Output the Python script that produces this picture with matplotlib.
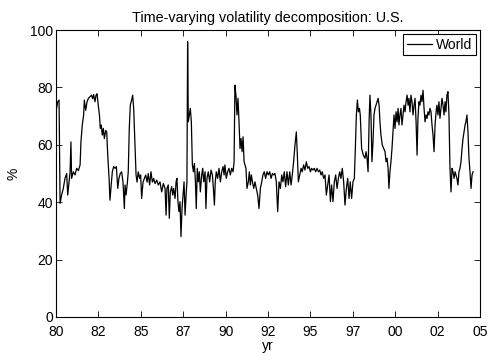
import matplotlib
matplotlib.use("Agg")
import matplotlib.pyplot as plt
import numpy as np

plt.rcParams["font.family"] = ["Liberation Sans", "DejaVu Sans"]

# years since 1980
t = [
    0.00, 0.10, 0.18, 0.24, 0.33, 0.43, 0.53, 0.63, 0.69, 0.77, 0.83, 0.88, 0.92, 1.02, 1.12, 1.22,
    1.32, 1.42, 1.47, 1.55, 1.63, 1.67, 1.75, 1.83, 1.91, 2.00, 2.10, 2.16, 2.22, 2.30, 2.36, 2.42,
    2.50, 2.56, 2.61, 2.67, 2.73, 2.79, 2.85, 2.93, 2.99, 3.05, 3.13, 3.18, 3.24, 3.32, 3.40, 3.48,
    3.56, 3.64, 3.71, 3.79, 3.87, 3.95, 4.03, 4.07, 4.13, 4.21, 4.26, 4.32, 4.38, 4.46, 4.52, 4.58,
    4.66, 4.72, 4.78, 4.85, 4.93, 4.99, 5.05, 5.13, 5.21, 5.29, 5.37, 5.44, 5.52, 5.60, 5.68, 5.76,
    5.84, 5.94, 6.03, 6.13, 6.23, 6.33, 6.43, 6.49, 6.54, 6.62, 6.68, 6.74, 6.82, 6.88, 6.94, 7.02,
    7.08, 7.13, 7.19, 7.25, 7.31, 7.37, 7.43, 7.49, 7.55, 7.61, 7.67, 7.72, 7.76, 7.80, 7.86, 7.92,
    7.98, 8.04, 8.10, 8.16, 8.22, 8.27, 8.33, 8.39, 8.45, 8.51, 8.59, 8.65, 8.71, 8.79, 8.84, 8.90,
    8.98, 9.06, 9.14, 9.22, 9.28, 9.34, 9.39, 9.45, 9.53, 9.61, 9.69, 9.77, 9.85, 9.91, 9.96, 10.04,
    10.12, 10.20, 10.28, 10.36, 10.44, 10.50, 10.55, 10.61, 10.67, 10.73, 10.79, 10.85, 10.91, 10.97,
    11.03, 11.09, 11.14, 11.20, 11.26, 11.34, 11.40, 11.46, 11.52, 11.58, 11.66,
    11.73, 11.81, 11.89, 11.97, 12.05, 12.13, 12.20, 12.28, 12.36, 12.44, 12.52, 12.60, 12.68, 12.76,
    12.83, 12.91, 12.99, 13.07, 13.15, 13.23, 13.31, 13.38, 13.46, 13.54, 13.62, 13.70, 13.78, 13.86,
    13.93, 14.01, 14.09, 14.17, 14.23, 14.29, 14.37, 14.45, 14.52, 14.60, 14.68, 14.76, 14.84, 14.92,
    15.00, 15.07, 15.15, 15.23, 15.31, 15.39, 15.47, 15.55, 15.63, 15.70, 15.78, 15.86, 15.94, 16.02,
    16.10, 16.18, 16.25, 16.33, 16.41, 16.49, 16.57, 16.65, 16.73, 16.80, 16.88, 16.96, 17.04, 17.12,
    17.20, 17.28, 17.35, 17.43, 17.51, 17.59, 17.65, 17.71, 17.77, 17.83, 17.89, 17.94,
    18.02, 18.12, 18.22, 18.28, 18.34, 18.40, 18.46, 18.51, 18.57, 18.63, 18.69, 18.75, 18.81, 18.87,
    18.93, 18.99, 19.05, 19.10, 19.16, 19.24, 19.32, 19.40, 19.46, 19.52, 19.58, 19.63, 19.69, 19.75,
    19.81, 19.87, 19.93, 19.99, 20.05, 20.11, 20.17, 20.22, 20.28, 20.34, 20.40, 20.46, 20.52, 20.58,
    20.64, 20.70, 20.76, 20.81, 20.87, 20.93, 20.99, 21.05, 21.11, 21.17, 21.23, 21.29, 21.34, 21.40,
    21.46, 21.52, 21.58, 21.64, 21.70, 21.76, 21.82, 21.88, 21.93, 21.99, 22.05, 22.11, 22.17, 22.23,
    22.29, 22.35, 22.41, 22.46, 22.52, 22.58, 22.64, 22.70, 22.76, 22.82, 22.88, 22.94, 22.99, 23.05,
    23.11, 23.17, 23.23, 23.29, 23.35, 23.41, 23.47, 23.53, 23.58, 23.64, 23.70, 23.76, 23.82, 23.88,
    23.94, 24.00, 24.06, 24.12, 24.17, 24.23, 24.29, 24.35, 24.41, 24.47, 24.53, 24.59,
]

world = [
    71.5, 75.0, 75.6, 39.6, 42.5, 44.8, 48.3, 50.0, 42.5, 47.0, 50.6, 61.0, 48.3, 50.6, 49.5, 51.8,
    51.0, 53.0, 61.0, 67.0, 70.4, 75.6, 72.0, 75.0, 76.2, 76.7, 77.3, 76.0, 77.5, 75.0, 77.3, 77.8,
    73.3, 70.4, 65.7, 66.9, 63.4, 65.7, 62.2, 65.0, 64.5, 56.4, 48.3, 40.7, 44.8, 50.6, 52.4, 51.8,
    52.4, 44.8, 48.3, 50.0, 50.6, 47.0, 37.8, 46.0, 42.5, 47.0, 50.6, 65.7, 73.8, 75.6, 77.3, 72.7,
    59.9, 49.5, 47.0, 50.6, 48.3, 49.5, 41.3, 47.0, 48.3, 49.5, 47.0, 50.0, 46.0, 50.6, 47.0, 48.3,
    46.5, 47.7, 46.0, 47.1, 43.6, 46.5, 44.8, 35.5, 44.8, 46.0, 34.4, 43.6, 45.4, 42.5, 44.8, 41.3,
    47.1, 48.3, 40.2, 36.7, 40.2, 28.0, 37.8, 42.5, 47.1, 35.5, 42.5, 47.1, 95.9, 68.0, 70.4, 72.7,
    68.0, 53.0, 50.6, 53.5, 47.1, 37.8, 51.8, 47.1, 50.6, 43.6, 49.5, 51.8, 47.1, 50.6, 37.8, 48.3,
    50.6, 47.1, 51.2, 49.5, 44.8, 39.0, 47.1, 50.6, 48.3, 51.8, 47.1, 50.6, 52.4, 49.5, 53.0, 48.3,
    50.6, 51.8, 49.5, 51.8, 50.6, 54.1, 80.8, 77.3, 70.4, 76.2, 68.0, 58.7, 62.2, 57.6,
    62.8, 54.1, 53.0, 51.8, 44.8, 47.1, 50.6, 46.0, 49.5, 47.1, 44.8,
    47.1, 44.8, 42.5, 37.8, 44.8, 47.1, 49.5, 50.6, 48.3, 50.6, 49.5, 50.6, 48.3, 50.0,
    49.5, 50.0, 47.1, 36.7, 47.1, 44.8, 49.5, 47.1, 50.6, 45.4, 50.6, 46.0, 50.6, 46.0,
    49.5, 54.1, 59.9, 64.5, 56.4, 47.1, 49.5, 51.8, 50.6, 53.0, 51.2, 54.1, 51.8, 52.4,
    50.6, 51.8, 51.2, 51.8, 50.6, 51.8, 50.6, 51.2, 49.5, 50.6, 48.3, 49.5, 42.5, 46.0,
    49.5, 40.2, 46.0, 40.2, 47.1, 49.5, 44.8, 48.3, 50.6, 48.3, 51.8, 47.1, 39.0, 44.8,
    48.3, 41.3, 47.1, 41.3, 47.1, 48.3, 58.7, 70.4, 75.6, 71.5, 72.7, 70.4,
    58.7, 56.4, 55.3, 57.6, 55.3, 50.6, 68.0, 77.3, 70.4, 54.1, 61.0, 70.4, 72.7, 73.8,
    75.0, 76.2, 73.8, 68.0, 63.4, 59.9, 58.7, 57.6, 54.1, 55.3, 51.8, 44.8, 50.6, 54.1,
    58.7, 64.5, 70.4, 65.7, 71.5, 68.0, 72.7, 66.9, 70.4, 72.7, 66.9, 70.4, 73.8, 71.5,
    75.0, 77.3, 73.8, 76.2, 71.5, 77.3, 75.0, 70.4, 73.8, 76.2, 68.0, 56.4, 69.2, 75.0,
    73.8, 77.3, 75.0, 79.0, 72.7, 68.0, 70.4, 69.2, 71.5, 70.4, 72.7, 71.5, 66.9, 63.4,
    57.6, 66.9, 71.5, 73.8, 70.4, 75.0, 69.2, 72.7, 76.2, 73.8, 70.4, 75.0, 71.5, 77.3,
    78.5, 70.4, 51.8, 43.6, 51.8, 50.6, 48.3, 50.6, 49.5, 48.3, 46.0, 50.6, 51.8, 54.1,
    58.7, 62.2, 64.5, 66.9, 68.0, 70.4, 64.5, 55.3, 50.6, 44.8, 49.5, 50.6,
]

tick_pos = [0, 2.5, 5, 7.5, 10, 12.5, 15, 17.5, 20, 22.5, 25]
tick_labels = ["80", "82", "85", "87", "90", "92", "95", "97", "00", "02", "05"]

fig = plt.figure(figsize=(4.9, 3.53), dpi=100)
ax = fig.add_axes([0.1143, 0.102, 0.8653, 0.813])

ax.plot(1980 + np.array(t), world, color="black", linewidth=0.9, label="World")

ax.set_xlim(1980, 2005)
ax.set_ylim(0, 100)
ax.set_xticks(1980 + np.array(tick_pos))
ax.set_xticklabels(tick_labels)
ax.set_yticks([0, 20, 40, 60, 80, 100])
ax.tick_params(direction="in", length=4, width=0.6, labelsize=10,
               top=True, right=True)
ax.tick_params(axis="x", pad=5.5)
ax.tick_params(axis="y", pad=2)
for sp in ax.spines.values():
    sp.set_linewidth(0.8)

ax.set_title("Time-varying volatility decomposition: U.S.", fontsize=10.4, pad=6)
ax.set_xlabel("yr", fontsize=10, labelpad=0)
ax.set_ylabel("%", fontsize=10, labelpad=7)

leg = ax.legend(loc="upper right", fontsize=10, fancybox=False, framealpha=1,
                edgecolor="black", handlelength=1.8, handletextpad=0.3,
                borderaxespad=0.3, borderpad=0.25)
leg.get_frame().set_linewidth(0.8)

fig.savefig("out.png", dpi=100)
